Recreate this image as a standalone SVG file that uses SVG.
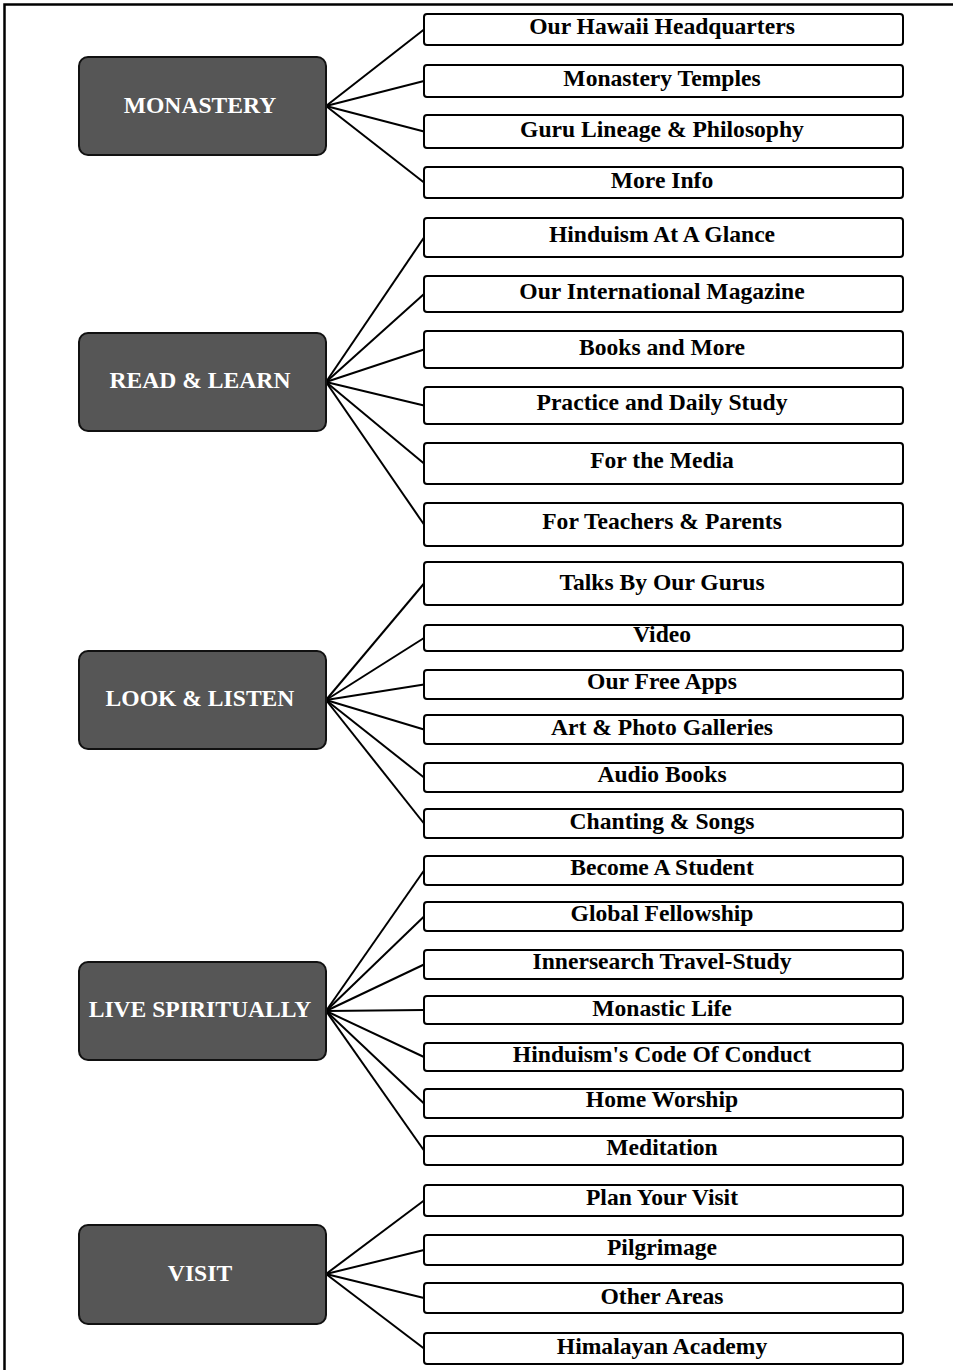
<svg xmlns="http://www.w3.org/2000/svg" width="953" height="1370" viewBox="0 0 953 1370">
<style>
.frame{fill:none;stroke:#000;stroke-width:2.5}
.hub rect{fill:#565656;stroke:#111;stroke-width:2}
.hub text{fill:#fff;font-family:'Liberation Serif','Tinos','DejaVu Serif',serif;font-weight:700;font-size:23.6px;text-anchor:middle}
.leaf rect{fill:#fff;stroke:#000;stroke-width:2}
.leaf text{fill:#000;font-family:'Liberation Serif','Tinos','DejaVu Serif',serif;font-weight:700;font-size:23.6px;text-anchor:middle}
#connectors line{stroke:#000;stroke-width:2}
</style>
<rect width="953" height="1370" fill="#fff"/>
<path class="frame" d="M4.5,1370 V4.5 H953"/>
<g id="connectors">
<line x1="326" y1="106" x2="424" y2="29.5"/>
<line x1="326" y1="106" x2="424" y2="81"/>
<line x1="326" y1="106" x2="424" y2="131.5"/>
<line x1="326" y1="106" x2="424" y2="182.5"/>
<line x1="326" y1="382" x2="424" y2="237.5"/>
<line x1="326" y1="382" x2="424" y2="294"/>
<line x1="326" y1="382" x2="424" y2="349.5"/>
<line x1="326" y1="382" x2="424" y2="405.5"/>
<line x1="326" y1="382" x2="424" y2="463.5"/>
<line x1="326" y1="382" x2="424" y2="524.5"/>
<line x1="326" y1="700" x2="424" y2="583.5"/>
<line x1="326" y1="700" x2="424" y2="638"/>
<line x1="326" y1="700" x2="424" y2="684.5"/>
<line x1="326" y1="700" x2="424" y2="729.5"/>
<line x1="326" y1="700" x2="424" y2="777.5"/>
<line x1="326" y1="700" x2="424" y2="823.5"/>
<line x1="326" y1="1011" x2="424" y2="870.5"/>
<line x1="326" y1="1011" x2="424" y2="916.5"/>
<line x1="326" y1="1011" x2="424" y2="964.5"/>
<line x1="326" y1="1011" x2="424" y2="1010"/>
<line x1="326" y1="1011" x2="424" y2="1057"/>
<line x1="326" y1="1011" x2="424" y2="1103.5"/>
<line x1="326" y1="1011" x2="424" y2="1150.5"/>
<line x1="326" y1="1274" x2="424" y2="1200.5"/>
<line x1="326" y1="1274" x2="424" y2="1250"/>
<line x1="326" y1="1274" x2="424" y2="1298"/>
<line x1="326" y1="1274" x2="424" y2="1348.5"/>
</g>
<g id="hub-monastery" class="hub"><rect x="79" y="57" width="247" height="98" rx="9"/><text x="200" y="113">MONASTERY</text></g>
<g id="hub-read" class="hub"><rect x="79" y="333" width="247" height="98" rx="9"/><text x="200" y="388">READ &amp; LEARN</text></g>
<g id="hub-look" class="hub"><rect x="79" y="651" width="247" height="98" rx="9"/><text x="200" y="706">LOOK &amp; LISTEN</text></g>
<g id="hub-live" class="hub"><rect x="79" y="962" width="247" height="98" rx="9"/><text x="200" y="1017">LIVE SPIRITUALLY</text></g>
<g id="hub-visit" class="hub"><rect x="79" y="1225" width="247" height="99" rx="9"/><text x="200" y="1281">VISIT</text></g>
<g id="leaf-1" class="leaf"><rect x="424" y="14" width="479" height="31" rx="3"/><text x="662" y="34">Our Hawaii Headquarters</text></g>
<g id="leaf-2" class="leaf"><rect x="424" y="65" width="479" height="32" rx="3"/><text x="662" y="86">Monastery Temples</text></g>
<g id="leaf-3" class="leaf"><rect x="424" y="115" width="479" height="33" rx="3"/><text x="662" y="137">Guru Lineage &amp; Philosophy</text></g>
<g id="leaf-4" class="leaf"><rect x="424" y="167" width="479" height="31" rx="3"/><text x="662" y="188">More Info</text></g>
<g id="leaf-5" class="leaf"><rect x="424" y="218" width="479" height="39" rx="3"/><text x="662" y="242">Hinduism At A Glance</text></g>
<g id="leaf-6" class="leaf"><rect x="424" y="276" width="479" height="36" rx="3"/><text x="662" y="299">Our International Magazine</text></g>
<g id="leaf-7" class="leaf"><rect x="424" y="331" width="479" height="37" rx="3"/><text x="662" y="355">Books and More</text></g>
<g id="leaf-8" class="leaf"><rect x="424" y="387" width="479" height="37" rx="3"/><text x="662" y="410">Practice and Daily Study</text></g>
<g id="leaf-9" class="leaf"><rect x="424" y="443" width="479" height="41" rx="3"/><text x="662" y="468">For the Media</text></g>
<g id="leaf-10" class="leaf"><rect x="424" y="503" width="479" height="43" rx="3"/><text x="662" y="529">For Teachers &amp; Parents</text></g>
<g id="leaf-11" class="leaf"><rect x="424" y="562" width="479" height="43" rx="3"/><text x="662" y="590">Talks By Our Gurus</text></g>
<g id="leaf-12" class="leaf"><rect x="424" y="625" width="479" height="26" rx="3"/><text x="662" y="642">Video</text></g>
<g id="leaf-13" class="leaf"><rect x="424" y="670" width="479" height="29" rx="3"/><text x="662" y="689">Our Free Apps</text></g>
<g id="leaf-14" class="leaf"><rect x="424" y="715" width="479" height="29" rx="3"/><text x="662" y="735">Art &amp; Photo Galleries</text></g>
<g id="leaf-15" class="leaf"><rect x="424" y="763" width="479" height="29" rx="3"/><text x="662" y="782">Audio Books</text></g>
<g id="leaf-16" class="leaf"><rect x="424" y="809" width="479" height="29" rx="3"/><text x="662" y="829">Chanting &amp; Songs</text></g>
<g id="leaf-17" class="leaf"><rect x="424" y="856" width="479" height="29" rx="3"/><text x="662" y="875">Become A Student</text></g>
<g id="leaf-18" class="leaf"><rect x="424" y="902" width="479" height="29" rx="3"/><text x="662" y="921">Global Fellowship</text></g>
<g id="leaf-19" class="leaf"><rect x="424" y="950" width="479" height="29" rx="3"/><text x="662" y="969">Innersearch Travel-Study</text></g>
<g id="leaf-20" class="leaf"><rect x="424" y="996" width="479" height="28" rx="3"/><text x="662" y="1016">Monastic Life</text></g>
<g id="leaf-21" class="leaf"><rect x="424" y="1043" width="479" height="28" rx="3"/><text x="662" y="1062">Hinduism's Code Of Conduct</text></g>
<g id="leaf-22" class="leaf"><rect x="424" y="1089" width="479" height="29" rx="3"/><text x="662" y="1107">Home Worship</text></g>
<g id="leaf-23" class="leaf"><rect x="424" y="1136" width="479" height="29" rx="3"/><text x="662" y="1155">Meditation</text></g>
<g id="leaf-24" class="leaf"><rect x="424" y="1185" width="479" height="31" rx="3"/><text x="662" y="1205">Plan Your Visit</text></g>
<g id="leaf-25" class="leaf"><rect x="424" y="1235" width="479" height="30" rx="3"/><text x="662" y="1255">Pilgrimage</text></g>
<g id="leaf-26" class="leaf"><rect x="424" y="1283" width="479" height="30" rx="3"/><text x="662" y="1304">Other Areas</text></g>
<g id="leaf-27" class="leaf"><rect x="424" y="1333" width="479" height="31" rx="3"/><text x="662" y="1354">Himalayan Academy</text></g>
</svg>
